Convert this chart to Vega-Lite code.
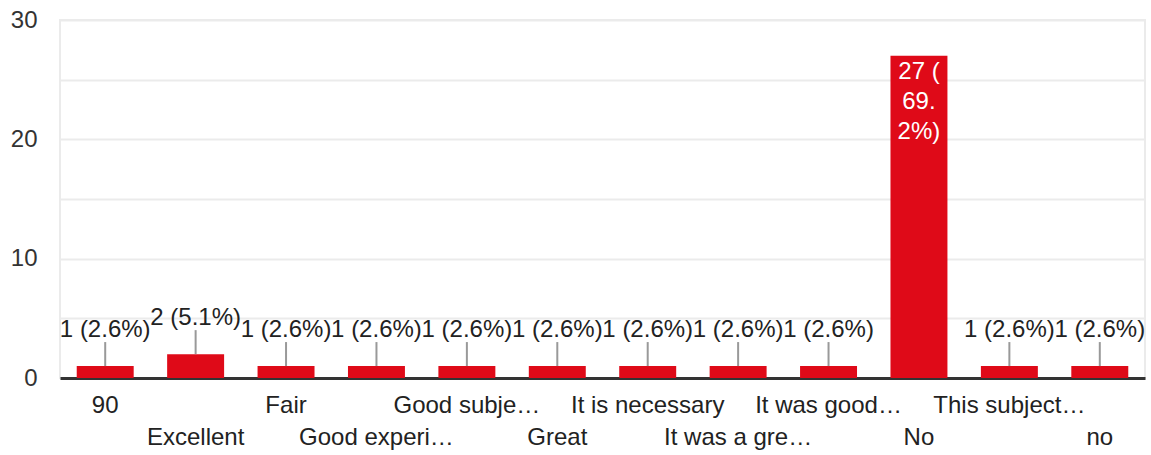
{
  "$schema": "https://vega.github.io/schema/vega-lite/v6.json",
  "autosize": "none",
  "width": 1085,
  "height": 358,
  "padding": {"left": 60, "top": 20, "right": 6, "bottom": 77},
  "background": "white",
  "config": {
    "font": "Liberation Sans",
    "view": {"stroke": "#ebebeb", "strokeWidth": 2}
  },
  "data": {
    "values": [
      {"answer": "90", "count": 1, "label": "1 (2.6%)"},
      {"answer": "Excellent", "count": 2, "label": "2 (5.1%)"},
      {"answer": "Fair", "count": 1, "label": "1 (2.6%)"},
      {"answer": "Good experi…", "count": 1, "label": "1 (2.6%)"},
      {"answer": "Good subje…", "count": 1, "label": "1 (2.6%)"},
      {"answer": "Great", "count": 1, "label": "1 (2.6%)"},
      {"answer": "It is necessary", "count": 1, "label": "1 (2.6%)"},
      {"answer": "It was a gre…", "count": 1, "label": "1 (2.6%)"},
      {"answer": "It was good…", "count": 1, "label": "1 (2.6%)"},
      {"answer": "No", "count": 27, "label": "27 (\n69.\n2%)"},
      {"answer": "This subject…", "count": 1, "label": "1 (2.6%)"},
      {"answer": "no", "count": 1, "label": "1 (2.6%)"}
    ]
  },
  "encoding": {
    "x": {
      "field": "answer",
      "type": "nominal",
      "sort": null,
      "scale": {"paddingInner": 0.37, "paddingOuter": 0.185},
      "axis": {
        "title": null,
        "labelAngle": 0,
        "ticks": false,
        "domainColor": "#333333",
        "domainWidth": 3,
        "labelFontSize": 24,
        "labelColor": "#222222",
        "labelBaseline": "top",
        "labelLineHeight": 32,
        "labelPadding": 15,
        "labelOverlap": false,
        "labelLimit": 300,
        "labelBound": false,
        "grid": false,
        "labelExpr": "indexof(['Excellent','Good experi…','Great','It was a gre…','No','no'], datum.label) >= 0 ? ['', datum.label] : datum.label"
      }
    }
  },
  "layer": [
    {
      "mark": {"type": "bar", "color": "#df0a18"},
      "encoding": {
        "y": {
          "field": "count",
          "type": "quantitative",
          "scale": {"domain": [0, 30], "nice": false},
          "axis": {
            "title": null,
            "values": [0, 5, 10, 15, 20, 25, 30],
            "labelExpr": "datum.value % 10 == 0 ? datum.label : ''",
            "domain": false,
            "ticks": false,
            "gridColor": "#ebebeb",
            "gridWidth": 2,
            "labelFontSize": 24,
            "labelColor": "#333333",
            "labelPadding": 23
          }
        }
      }
    },
    {
      "transform": [{"filter": "datum.count < 10"}],
      "mark": {"type": "rule", "color": "#999999", "strokeWidth": 2, "y2Offset": -24},
      "encoding": {
        "y": {"field": "count", "type": "quantitative"},
        "y2": {"field": "count"}
      }
    },
    {
      "transform": [{"filter": "datum.count < 10"}],
      "mark": {"type": "text", "fontSize": 24, "color": "#222222", "baseline": "middle", "dy": -36},
      "encoding": {
        "y": {"field": "count", "type": "quantitative"},
        "text": {"field": "label"}
      }
    },
    {
      "transform": [{"filter": "datum.count >= 10"}],
      "mark": {"type": "text", "fontSize": 24, "color": "#ffffff", "baseline": "middle", "dy": 16, "lineBreak": "\n", "lineHeight": 30},
      "encoding": {
        "y": {"field": "count", "type": "quantitative"},
        "text": {"field": "label"}
      }
    }
  ]
}
